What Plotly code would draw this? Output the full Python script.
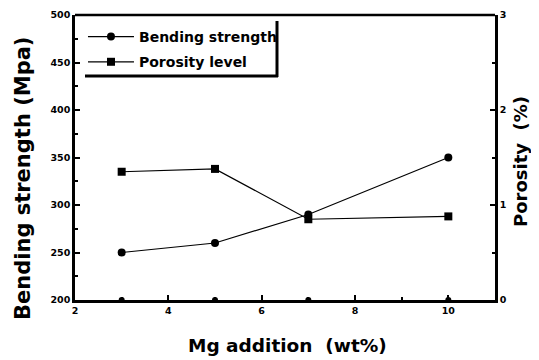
import plotly.graph_objects as go

mg = [3, 5, 7, 10]
bending = [250, 260, 290, 350]
porosity = [1.35, 1.38, 0.85, 0.88]
baseline = [200, 200, 200, 200]

FONT = "DejaVu Sans, sans-serif"

fig = go.Figure()
fig.add_trace(go.Scatter(x=mg, y=bending, mode="lines+markers", name="<b>Bending strength</b>",
                         legendgroup="a",
                         line=dict(color="black", width=1.2),
                         marker=dict(symbol="circle", size=8, color="black")))
fig.add_trace(go.Scatter(x=mg, y=porosity, mode="lines+markers", name="<b>Porosity level</b>",
                         legendgroup="b",
                         yaxis="y2", line=dict(color="black", width=1.2),
                         marker=dict(symbol="square", size=8, color="black")))
fig.add_trace(go.Scatter(x=mg, y=baseline, mode="markers", showlegend=False,
                         marker=dict(symbol="circle", size=6, color="black"), cliponaxis=False))

axis_common = dict(showline=True, linecolor="black", linewidth=2.5, mirror=False,
                   ticks="inside", tickcolor="black", tickwidth=1.5, ticklen=5,
                   showgrid=False, zeroline=False, automargin=False,
                   tickfont=dict(family=FONT, size=9.5, color="black", weight="bold"))

# page body has an 8px default margin, so the figure is shrunk by that amount
fig.update_layout(
    width=531, height=352,
    margin=dict(l=67, r=44, t=7, b=60),
    paper_bgcolor="white", plot_bgcolor="white",
    font=dict(family=FONT, color="black"),
    xaxis=dict(range=[2, 11], tickvals=[2, 4, 6, 8, 10],
               minor=dict(ticks="inside", ticklen=3, tickcolor="black", dtick=1, tick0=2),
               **axis_common),
    yaxis=dict(range=[200, 500], tickvals=[200, 250, 300, 350, 400, 450, 500],
               minor=dict(ticks="inside", ticklen=3, tickcolor="black", dtick=25, tick0=200),
               **axis_common),
    yaxis2=dict(range=[0, 3], tickvals=[0, 1, 2, 3], overlaying="y", side="right",
                minor=dict(ticks="inside", ticklen=3, tickcolor="black", dtick=0.5, tick0=0),
                **axis_common),
    legend=dict(x=0.019, y=0.979, xanchor="left", yanchor="top",
                bgcolor="rgba(0,0,0,0)", borderwidth=0, traceorder="grouped",
                font=dict(family=FONT, size=14, color="black"),
                itemwidth=46, tracegroupgap=4),
    annotations=[
        dict(text="<b>Mg addition&nbsp; (wt%)</b>", xref="paper", yref="paper",
             x=(287 - 75) / 420, y=0, yshift=-45, xanchor="center", yanchor="middle",
             showarrow=False, font=dict(family=FONT, size=18.5, color="black")),
        dict(text="<b>Bending strength (Mpa)</b>", xref="paper", yref="paper",
             x=0, xshift=-52, y=(300 - 179) / 285, xanchor="center", yanchor="middle",
             textangle=-90, showarrow=False,
             font=dict(family=FONT, size=21, color="black")),
        dict(text="<b>Porosity&nbsp; (%)</b>", xref="paper", yref="paper",
             x=1, xshift=25, y=(300 - 162) / 285, xanchor="center", yanchor="middle",
             textangle=-90, showarrow=False,
             font=dict(family=FONT, size=18, color="black")),
    ],
    shapes=[
        dict(type="line", xref="paper", yref="paper", x0=0, x1=1, y0=1, y1=1,
             line=dict(color="black", width=2.5)),
        dict(type="line", xref="paper", yref="paper",
             x0=(85 - 75) / 420, x1=(278 - 75) / 420, y0=(300 - 76) / 285, y1=(300 - 76) / 285,
             line=dict(color="black", width=3)),
        dict(type="line", xref="paper", yref="paper",
             x0=(277 - 75) / 420, x1=(277 - 75) / 420, y0=(300 - 21) / 285, y1=(300 - 77) / 285,
             line=dict(color="black", width=3)),
    ],
)

fig.write_html("out.html")
